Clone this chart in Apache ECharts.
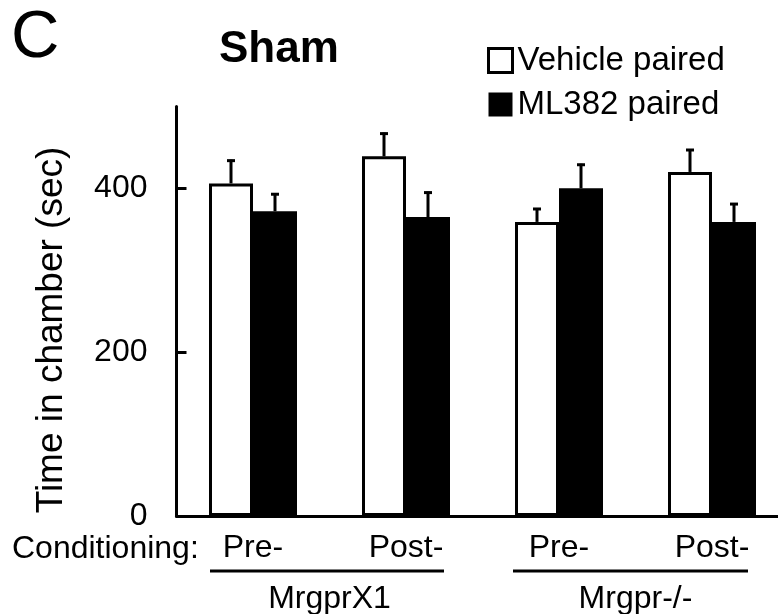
<!DOCTYPE html>
<html>
<head>
<meta charset="utf-8">
<script src="https://cdn.jsdelivr.net/npm/echarts@6/dist/echarts.min.js"></script>
<style>
html,body{margin:0;padding:0;background:#fff;}
#chart{width:778px;height:614px;}
</style>
</head>
<body>
<div id="chart"></div>
<script>
const conditionLabels = ['Pre-', 'Post-', 'Pre-', 'Post-'];
const groupLabels = ['MrgprX1', 'Mrgpr-/-'];
const seriesNames = ['Vehicle paired', 'ML382 paired'];
const vehicleValues = [406, 439, 359, 420];
const vehicleErrors = [29, 29, 17, 28];
const ml382Values = [372, 365, 400, 359];
const ml382Errors = [22, 31, 30, 23];
const yTicks = [0, 200, 400];

const FONT = 'Liberation Sans, Arial, Helvetica, sans-serif';
const BAR_W = 44;

function errRenderer(offset) {
  return function (params, api) {
    const idx = api.value(0), val = api.value(1), err = api.value(2);
    const base = api.coord([idx, val]);
    const top = api.coord([idx, val + err]);
    const x = base[0] + offset;
    return {
      type: 'group',
      children: [
        { type: 'line', shape: { x1: x, y1: base[1], x2: x, y2: top[1] }, style: { stroke: '#000', lineWidth: 3 } },
        { type: 'line', shape: { x1: x - 4, y1: top[1] + 1, x2: x + 4, y2: top[1] + 1 }, style: { stroke: '#000', lineWidth: 3 } }
      ]
    };
  };
}

const chart = echarts.init(document.getElementById('chart'), null, { renderer: 'canvas' });
chart.setOption({
  animation: false,
  backgroundColor: '#fff',
  textStyle: { fontFamily: FONT, color: '#000' },
  grid: { left: 176.5, width: 612, top: 106.4, bottom: 98, containLabel: false, outerBoundsMode: 'none' },
  legend: {
    orient: 'vertical',
    left: 482,
    top: 39,
    itemWidth: 24,
    itemHeight: 24,
    itemGap: 11,
    textStyle: { fontSize: 33, color: '#000', fontFamily: FONT, lineHeight: 33 },
    data: [
      { name: seriesNames[0], icon: 'rect', itemStyle: { color: '#fff', borderColor: '#000', borderWidth: 3 } },
      { name: seriesNames[1], icon: 'rect', itemStyle: { color: '#000', borderColor: '#000', borderWidth: 0 } }
    ]
  },
  xAxis: [
    {
      type: 'category',
      data: conditionLabels,
      position: 'bottom',
      axisLine: { show: true, lineStyle: { color: '#000', width: 3 } },
      axisTick: { show: false },
      axisLabel: { fontSize: 32, color: '#000', fontFamily: FONT, margin: 16, interval: 0 }
    },
    {
      type: 'category',
      data: groupLabels,
      position: 'bottom',
      axisLine: { show: false },
      axisTick: { show: false },
      axisLabel: { fontSize: 32, color: '#000', fontFamily: FONT, margin: 67, interval: 0 }
    }
  ],
  yAxis: {
    type: 'value',
    min: 0,
    max: 500,
    interval: 100,
    splitLine: { show: false },
    axisLine: { show: true, lineStyle: { color: '#000', width: 3 } },
    axisTick: { show: true, inside: true, length: 10, lineStyle: { color: '#000', width: 3 }, customValues: yTicks.slice(1) },
    axisLabel: { fontSize: 32, color: '#000', fontFamily: FONT, margin: 29, customValues: yTicks }
  },
  series: [
    {
      name: seriesNames[0], type: 'bar', barWidth: BAR_W, barGap: '0%',
      data: vehicleValues,
      itemStyle: { color: '#fff', borderColor: '#000', borderWidth: 3 },
      z: 2
    },
    {
      name: seriesNames[1], type: 'bar', barWidth: BAR_W, barGap: '0%',
      data: ml382Values,
      itemStyle: { color: '#000', borderColor: '#000', borderWidth: 3 },
      z: 2
    },
    {
      type: 'custom', name: 'err1', renderItem: errRenderer(-BAR_W / 2),
      data: vehicleValues.map((v, i) => [i, v, vehicleErrors[i]]),
      encode: { x: 0, y: 1 }, z: 3, silent: true
    },
    {
      type: 'custom', name: 'err2', renderItem: errRenderer(BAR_W / 2),
      data: ml382Values.map((v, i) => [i, v, ml382Errors[i]]),
      encode: { x: 0, y: 1 }, z: 3, silent: true
    }
  ],
  graphic: [
    { type: 'text', left: 11, top: 5, style: { text: 'C', fontSize: 67, fontFamily: FONT, fill: '#000' } },
    { type: 'text', left: 219, top: 28, style: { text: 'Sham', fontSize: 44, fontWeight: 'bold', fontFamily: FONT, fill: '#000' } },
    { type: 'text', x: 52, y: 330, rotation: Math.PI / 2, style: { text: 'Time in chamber (sec)', fontSize: 37, fontFamily: FONT, fill: '#000', align: 'center', verticalAlign: 'middle' } },
    { type: 'text', left: 12, top: 533, style: { text: 'Conditioning:', fontSize: 32, fontFamily: FONT, fill: '#000' } },
    { type: 'line', shape: { x1: 210, y1: 571, x2: 444, y2: 571 }, style: { stroke: '#000', lineWidth: 3 } },
    { type: 'line', shape: { x1: 513, y1: 571, x2: 748, y2: 571 }, style: { stroke: '#000', lineWidth: 3 } }
  ]
});
</script>
</body>
</html>
